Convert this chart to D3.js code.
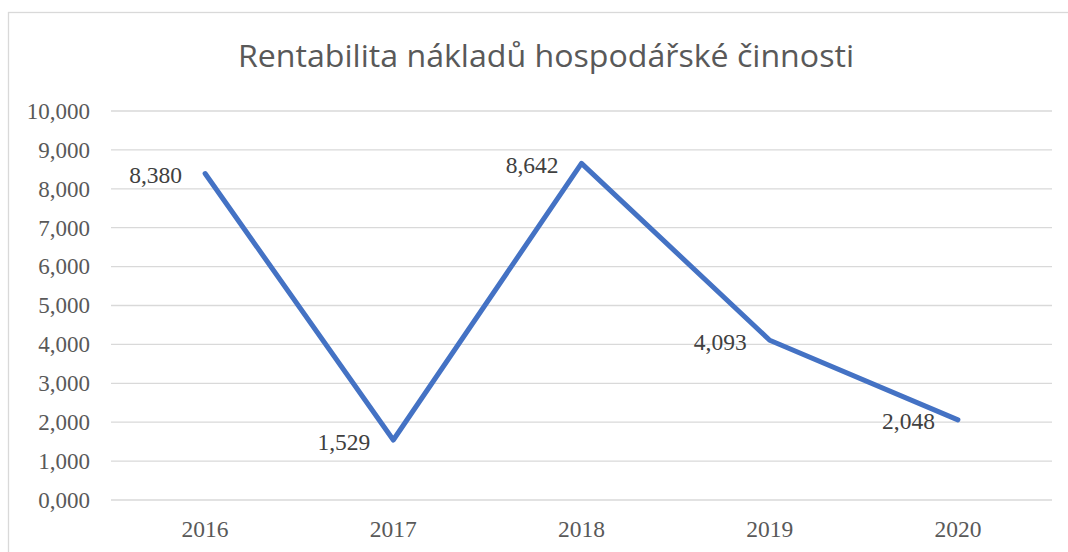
<!DOCTYPE html>
<html>
<head>
<meta charset="utf-8">
<script src="https://cdn.jsdelivr.net/npm/d3@7"></script>
<style>
  html, body { margin: 0; padding: 0; background: #fff; }
  svg { display: block; }
  .serif { font-family: "Liberation Serif", "Times New Roman", Tinos, serif; }
</style>
</head>
<body>
<svg id="chart" width="1068" height="552"></svg>
<script>
const title = "Rentabilita nákladů hospodářské činnosti";
const categories = ["2016", "2017", "2018", "2019", "2020"];
const values = [8.380, 1.529, 8.642, 4.093, 2.048];
const yTicks = [0, 1, 2, 3, 4, 5, 6, 7, 8, 9, 10];

const fmt = v => d3.format(".3f")(v).replace(".", ",");

const svg = d3.select("#chart");
const plot = { left: 111, right: 1052, top: 110.5, bottom: 499.5 };

// chart frame
svg.append("rect")
  .attr("x", 8.5).attr("y", 12.5)
  .attr("width", 1100).attr("height", 700)
  .attr("fill", "#fff")
  .attr("stroke", "#d9d9d9").attr("stroke-width", 1.3);

const x = d3.scaleBand().domain(categories).range([plot.left, plot.right]);
const y = d3.scaleLinear().domain([0, 10]).range([plot.bottom, plot.top]);

// title
svg.append("text")
  .attr("x", 238).attr("y", 66.7)
  .style("font-family", "'Open Sans', sans-serif")
  .style("font-weight", 400)
  .style("font-size", "31px")
  .attr("fill", "#595959")
  .attr("textLength", 616)
  .attr("lengthAdjust", "spacingAndGlyphs")
  .text(title);

// gridlines + y axis labels
const yAxis = d3.axisLeft(y).tickValues(yTicks).tickFormat(fmt)
  .tickSize(-(plot.right - plot.left)).tickPadding(21);
const gy = svg.append("g").attr("transform", `translate(${plot.left},0)`).call(yAxis);
gy.attr("font-family", null).attr("font-size", null);
gy.select(".domain").remove();
gy.selectAll(".tick line").attr("stroke", "#d9d9d9").attr("stroke-width", 1.3);
gy.selectAll(".tick text")
  .attr("class", "serif")
  .style("font-size", "23px")
  .attr("fill", "#595959")
  .attr("dy", "0.34em");

// x axis labels
const xAxis = d3.axisBottom(x).tickSize(0).tickPadding(0);
const gx = svg.append("g").attr("transform", `translate(0,${plot.bottom})`).call(xAxis);
gx.attr("font-family", null).attr("font-size", null);
gx.select(".domain").remove();
gx.selectAll(".tick text")
  .attr("class", "serif")
  .style("font-size", "23.5px")
  .attr("fill", "#595959")
  .attr("dy", null)
  .attr("y", 37.2);

// line
const line = d3.line()
  .x((d, i) => x(categories[i]) + x.bandwidth() / 2)
  .y(d => y(d));
svg.append("path")
  .datum(values)
  .attr("d", line)
  .attr("fill", "none")
  .attr("stroke", "#4472C4")
  .attr("stroke-width", 5)
  .attr("stroke-linejoin", "round")
  .attr("stroke-linecap", "round");

// data labels
svg.append("g").selectAll("text")
  .data(values)
  .join("text")
  .attr("class", "serif")
  .attr("x", (d, i) => x(categories[i]) + x.bandwidth() / 2 - 23)
  .attr("y", d => y(d) + 9.5)
  .attr("text-anchor", "end")
  .style("font-size", "23.5px")
  .attr("fill", "#404040")
  .text(d => fmt(d));
</script>
</body>
</html>
